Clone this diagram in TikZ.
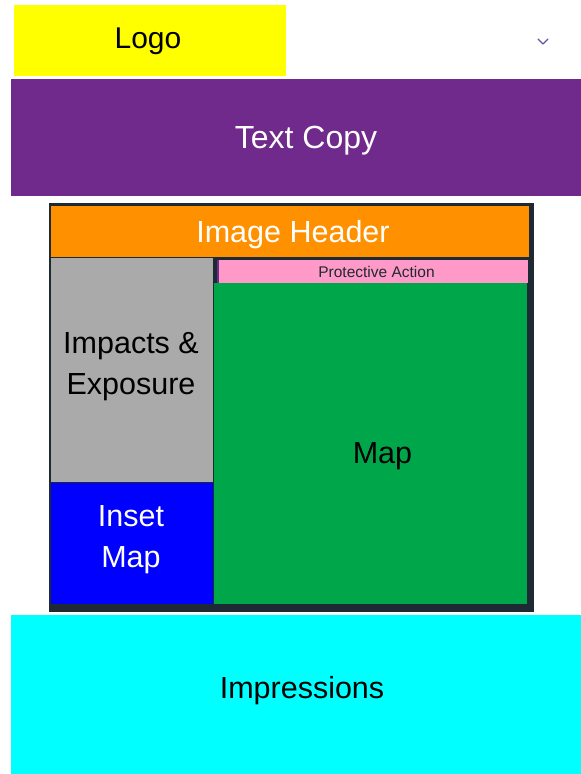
\documentclass[tikz,border=0pt]{standalone}
\usepackage{fontspec}
\setmainfont{Liberation Sans}
\usetikzlibrary{positioning}

\definecolor{logoyellow}{HTML}{FFFF00}
\definecolor{copypurple}{HTML}{6F2A8C}
\definecolor{framedark}{HTML}{1E2A33}
\definecolor{headorange}{HTML}{FF9100}
\definecolor{impactgray}{HTML}{AAAAAA}
\definecolor{actionpink}{HTML}{FF99C8}
\definecolor{mapgreen}{HTML}{00A64A}
\definecolor{insetblue}{HTML}{0000FF}
\definecolor{impcyan}{HTML}{00FFFF}

\begin{document}
\begin{tikzpicture}[x=1pt, y=-1pt,
    block/.style={inner sep=0pt, outer sep=0pt, anchor=north west},
    lbl/.style={inner sep=0pt, align=center, font=\fontsize{30.5}{41}\selectfont}]
    \useasboundingbox[fill=white] (0,0) rectangle (581,774);

    % Kopfzeile
    \node[block, fill=logoyellow, minimum width=272, minimum height=71] (logo) at (14,5) {};
    \node[lbl, font=\fontsize{30}{34}\selectfont] (logotext) at ([xshift=-2,yshift=-1]logo.center) {Logo};
    \draw[gray!70!blue, line width=1.3, line cap=round, line join=round] (538,39) -- (543,44) -- (548,39);
    \node[block, fill=copypurple, minimum width=570, minimum height=117] (copy) at (11,79) {};
    \node[lbl, text=white, font=\fontsize{32}{41}\selectfont] (copytext) at ([xshift=10,yshift=-3]copy.center) {Text Copy};

    % Bildrahmen
    \node[block, fill=framedark, minimum width=485, minimum height=409] (frame) at (49,203) {};
    \node[block, fill=headorange, minimum width=478, minimum height=51] (header) at (51,206) {};
    \node[lbl, text=white] (headertext) at ([xshift=3,yshift=-3]header.center) {Image Header};
    \node[block, fill=impactgray, minimum width=162, minimum height=224] (impacts) at (51,258) {};
    \node[lbl] (impactstext) at ([xshift=-1,yshift=3]impacts.center) {Impacts \&\\Exposure};
    \node[block, fill=insetblue, minimum width=162, minimum height=121] (inset) at (51,483) {};
    \node[lbl, text=white] (insettext) at ([xshift=-1,yshift=4]inset.center) {Inset\\Map};
    \node[block, fill=copypurple, minimum width=2, minimum height=23] (edge) at (217,260) {};
    \node[block, fill=actionpink, minimum width=309, minimum height=23] (action) at (219,260) {};
    \node[lbl, text=framedark, font=\fontsize{15.5}{18}\selectfont] (actiontext) at ([xshift=3]action.center) {Protective Action};
    \node[block, fill=mapgreen, minimum width=313, minimum height=321] (map) at (214,283) {};
    \node[lbl] (maptext) at ([xshift=12,yshift=-13]map.center) {Map};

    % Fußzeile
    \node[block, fill=impcyan, minimum width=570, minimum height=159] (impressions) at (11,615) {};
    \node[lbl] (impressionstext) at ([xshift=6,yshift=4]impressions.center) {Impressions};
\end{tikzpicture}
\end{document}
